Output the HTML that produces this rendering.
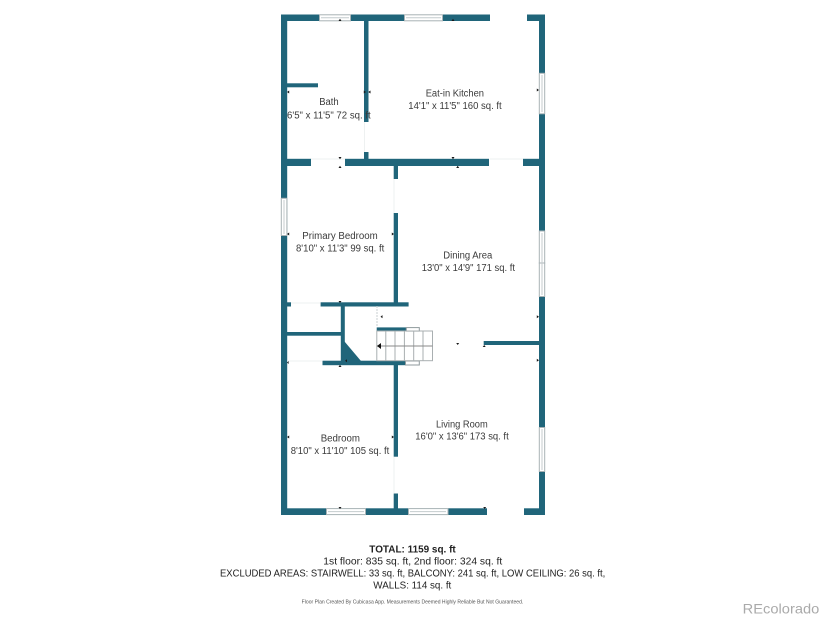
<!DOCTYPE html>
<html>
<head>
<meta charset="utf-8">
<style>
html,body{margin:0;padding:0;background:#fff;width:825px;height:619px;overflow:hidden}
svg{display:block}
text{font-family:"Liberation Sans",sans-serif;fill:#3a3a3a}
.r{font-size:10px}
.t{font-size:10.5px;fill:#222}
</style>
</head>
<body>
<svg width="825" height="619" viewBox="0 0 825 619" xmlns="http://www.w3.org/2000/svg">
<rect width="825" height="619" fill="#fff"/>
<g fill="#20657a">
  <!-- outer left/right -->
  <rect x="281" y="14.5" width="6.2" height="500.5"/>
  <rect x="539" y="14.5" width="6" height="500.5"/>
  <!-- top wall -->
  <rect x="281" y="14.5" width="38" height="6.5"/>
  <rect x="351" y="14.5" width="53" height="6.5"/>
  <rect x="442.5" y="14.5" width="47.5" height="6.5"/>
  <rect x="527" y="14.5" width="18" height="6.5"/>
  <!-- bottom wall -->
  <rect x="281" y="508.3" width="45" height="6.7"/>
  <rect x="365.5" y="508.3" width="42.5" height="6.7"/>
  <rect x="448" y="508.3" width="39" height="6.7"/>
  <rect x="524" y="508.3" width="21" height="6.7"/>
  <!-- bath/kitchen wall -->
  <rect x="364" y="21" width="4.5" height="101"/>
  <rect x="364" y="152" width="4.5" height="7"/>
  <!-- bath stub -->
  <rect x="287" y="83.3" width="31" height="4"/>
  <!-- mid wall -->
  <rect x="281" y="158.8" width="30" height="7.2"/>
  <rect x="345" y="158.8" width="144" height="7.2"/>
  <rect x="523" y="158.8" width="22" height="7.2"/>
  <!-- central vertical upper -->
  <rect x="393.7" y="166" width="4.3" height="13"/>
  <rect x="393.7" y="213" width="4.3" height="90"/>
  <!-- horizontal below primary -->
  <rect x="281" y="302.3" width="10" height="4.2"/>
  <rect x="320.6" y="302.3" width="88" height="4.2"/>
  <!-- closet walls -->
  <rect x="340.8" y="306" width="4" height="55"/>
  <rect x="287" y="332" width="54" height="3.7"/>
  <polygon points="344.5,341.5 361,361 344.5,361"/>
  <!-- lower horizontal -->
  <rect x="322.5" y="360.7" width="83" height="4.5"/>
  <!-- stair top wall -->
  <rect x="376.7" y="327.4" width="29.5" height="3.7"/>
  <!-- stub right -->
  <rect x="483.7" y="341" width="55.5" height="4"/>
  <!-- central vertical lower -->
  <rect x="393.7" y="365" width="4.3" height="91.7"/>
  <rect x="393.7" y="493.5" width="4.3" height="15"/>
</g>

<!-- windows -->
<g fill="#fff" stroke="#a8b2b5" stroke-width="1">
  <rect x="319.5" y="14.8" width="31" height="6"/>
  <rect x="404.5" y="14.8" width="38" height="6"/>
  <rect x="326.5" y="508.6" width="39" height="6"/>
  <rect x="408.5" y="508.6" width="39.5" height="6"/>
  <rect x="539.3" y="73.3" width="5.4" height="40.5"/>
  <rect x="281.3" y="198.3" width="5.6" height="37.2"/>
  <rect x="539.3" y="231" width="5.4" height="32"/>
  <rect x="539.3" y="263" width="5.4" height="33.5"/>
  <rect x="539.3" y="427.5" width="5.4" height="44"/>
  <rect x="406.3" y="327.6" width="13" height="3.5" stroke="#8f9a9d"/>
  <rect x="405.5" y="361" width="13.8" height="4" stroke="#8f9a9d"/>
</g>
<g stroke="#c4cbcd" stroke-width="1" fill="none">
  <path d="M321 17.8H349M406 17.8H441M328 511.6H364M410 511.6H446M542 75V112M284 200V234M542 233V295M542 429V470"/>
</g>

<!-- door traces -->
<g stroke="#eef1f1" stroke-width="1" fill="none">
  <path d="M291 303H320M311 159H345M490 159H523M364.5 122V152M394 179V213M394 457V493M287 361H322"/>
</g>
<path d="M377 306V327" stroke="#c9cfd0" stroke-width="1" stroke-dasharray="2 1" fill="none"/>

<!-- stairs -->
<g stroke="#a9afb1" stroke-width="1" fill="none">
  <rect x="376.8" y="331" width="55.7" height="29.7"/>
  <path d="M385.8 331V360.7M395 331V360.7M404.4 331V360.7M413.7 331V360.7M423 331V360.7"/>
</g>
<path d="M376.8 346H432.5" stroke="#888" stroke-width="1"/>
<polygon points="377,346 381,343 381,349" fill="#111"/>

<!-- arrowheads -->
<g fill="#1a1a1a">
  <path d="M338.5 21l1.5-2.2 1.5 2.2zM451.5 21l1.5-2.2 1.5 2.2z"/>
  <path d="M287 92l2.2-1.5v3zM366 92l-2.2-1.5v3zM368.3 92l2.2-1.5v3zM539 90l-2.2-1.5v3z"/>
  <path d="M338.5 157l1.5 2.2 1.5-2.2zM338.5 168l1.5-2.2 1.5 2.2zM451.5 157l1.5 2.2 1.5-2.2zM456.2 168l1.5-2.2 1.5 2.2z"/>
  <path d="M287 234l2.2-1.5v3zM394 234l-2.2-1.5v3zM338.5 301l1.5 2 1.5-2z"/>
  <path d="M380.5 316.7l2-1.6v3.2zM539 316.7l-2.2-1.5v3zM539 360.3l-2.2-1.5v3z"/>
  <path d="M456.2 343l1.5 2 1.5-2zM482.7 347l1.5-2 1.5 2z"/>
  <path d="M345 360.7l2-1.5v3zM338.5 367l1.5-2.2 1.5 2.2zM287 362.5l1.6-1.5v3z"/>
  <path d="M287 437l2.2-1.5v3zM394 437l-2.2-1.5v3zM338.5 507l1.5 2 1.5-2zM483.2 507l1.5 2 1.5-2z"/>
</g>

<!-- room labels -->
<g class="r">
<text class="r" x="319.2" y="105" textLength="19.5" lengthAdjust="spacingAndGlyphs">Bath</text>
<text class="r" x="287" y="118.3" textLength="83.7" lengthAdjust="spacingAndGlyphs">6'5" x 11'5" 72 sq. ft</text>
<text class="r" x="425.7" y="96.7" textLength="58.3" lengthAdjust="spacingAndGlyphs">Eat-in Kitchen</text>
<text class="r" x="408.3" y="109" textLength="93.4" lengthAdjust="spacingAndGlyphs">14'1" x 11'5" 160 sq. ft</text>
<text class="r" x="302.3" y="239" textLength="75.4" lengthAdjust="spacingAndGlyphs">Primary Bedroom</text>
<text class="r" x="296" y="251.3" textLength="88.3" lengthAdjust="spacingAndGlyphs">8'10" x 11'3" 99 sq. ft</text>
<text class="r" x="443.3" y="258.7" textLength="49" lengthAdjust="spacingAndGlyphs">Dining Area</text>
<text class="r" x="421.7" y="271" textLength="93.3" lengthAdjust="spacingAndGlyphs">13'0" x 14'9" 171 sq. ft</text>
<text class="r" x="436" y="427.3" textLength="51.7" lengthAdjust="spacingAndGlyphs">Living Room</text>
<text class="r" x="415.3" y="439.7" textLength="93.4" lengthAdjust="spacingAndGlyphs">16'0" x 13'6" 173 sq. ft</text>
<text class="r" x="320.7" y="441.7" textLength="39.3" lengthAdjust="spacingAndGlyphs">Bedroom</text>
<text class="r" x="290.7" y="454" textLength="98.6" lengthAdjust="spacingAndGlyphs">8'10" x 11'10" 105 sq. ft</text>
</g>

<!-- footer -->
<text class="t" x="369.3" y="552.3" font-weight="700" textLength="86.4" lengthAdjust="spacingAndGlyphs">TOTAL: 1159 sq. ft</text>
<text class="t" x="323.3" y="564.3" textLength="179" lengthAdjust="spacingAndGlyphs">1st floor: 835 sq. ft, 2nd floor: 324 sq. ft</text>
<text class="t" x="220" y="576.3" textLength="385.3" lengthAdjust="spacingAndGlyphs">EXCLUDED AREAS: STAIRWELL: 33 sq. ft, BALCONY: 241 sq. ft, LOW CEILING: 26 sq. ft,</text>
<text class="t" x="373.3" y="588.3" textLength="78" lengthAdjust="spacingAndGlyphs">WALLS: 114 sq. ft</text>
<text x="301.7" y="603.3" font-size="5" style="fill:#555" textLength="221.6" lengthAdjust="spacingAndGlyphs">Floor Plan Created By Cubicasa App. Measurements Deemed Highly Reliable But Not Guaranteed.</text>
<text x="742.7" y="613.3" font-size="14" style="fill:#aaa" textLength="76.6" lengthAdjust="spacingAndGlyphs">REcolorado</text>
</svg>
</body>
</html>
